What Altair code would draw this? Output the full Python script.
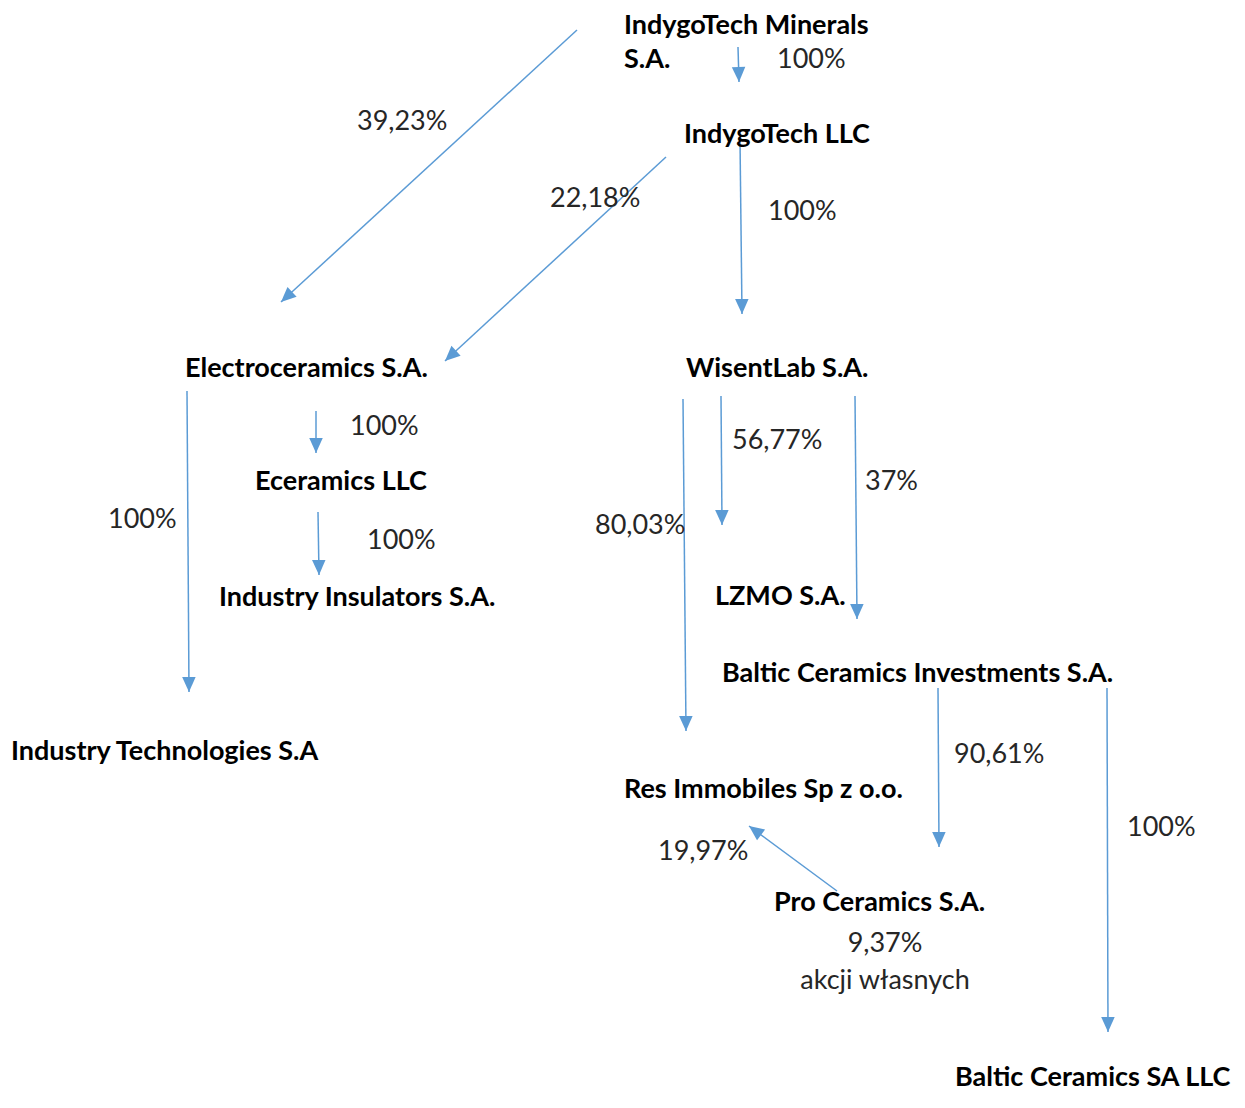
import math
import altair as alt
import pandas as pd

# Company names (bold) and their anchor positions
company_names = [
    "IndygoTech Minerals", "S.A.", "IndygoTech LLC", "Electroceramics S.A.",
    "WisentLab S.A.", "Eceramics LLC", "Industry Insulators S.A.", "LZMO S.A.",
    "Baltic Ceramics Investments S.A.", "Industry Technologies S.A",
    "Res Immobiles Sp z o.o.", "Pro Ceramics S.A.", "Baltic Ceramics SA LLC",
]
company_x = [624, 624, 684, 185, 686, 255, 219, 715, 722, 11, 624, 774, 955]
company_y = [26, 60, 135, 369, 369, 482, 598, 597, 674, 752, 790, 903, 1078]

# Ownership share labels (left aligned)
share_labels = ["100%", "39,23%", "22,18%", "100%", "100%", "56,77%", "37%",
                "100%", "80,03%", "100%", "90,61%", "100%", "19,97%"]
share_x = [777, 357, 550, 768, 350, 732, 865, 108, 595, 367, 954, 1127, 658]
share_y = [60, 122, 199, 212, 427, 441, 482, 520, 526, 541, 755, 828, 852]

# Centered note
note_labels = ["9,37%", "akcji własnych"]
note_x = [885, 885]
note_y = [944, 981]

# Arrows: start -> tip
arrow_x1 = [577, 738, 666, 740, 316, 187, 318, 683, 721, 855, 938, 1107, 837]
arrow_y1 = [30, 47, 157, 140, 411, 391, 512, 399, 396, 396, 688, 688, 891]
arrow_x2 = [281, 739, 445, 742, 316, 189, 319, 686, 722, 857, 939, 1108, 749]
arrow_y2 = [302, 82, 361, 314, 453, 692, 575, 731, 525, 619, 847, 1032, 826]

BLUE = "#5B9BD5"
FONT = "Lato"

companies = pd.DataFrame({"label": company_names, "x": company_x, "y": company_y})
shares = pd.DataFrame({"label": share_labels, "x": share_x, "y": share_y})
notes = pd.DataFrame({"label": note_labels, "x": note_x, "y": note_y})
arrows = pd.DataFrame({"x1": arrow_x1, "y1": arrow_y1, "x2": arrow_x2, "y2": arrow_y2})
arrows["angle"] = [
    (math.degrees(math.atan2(-(b - a), (d - c))) + 360) % 360
    for a, b, c, d in zip(arrows.x1, arrows.x2, arrows.y1, arrows.y2)
]

W, H = 1229, 1086
xs = alt.Scale(domain=[8, 8 + W])
ys = alt.Scale(domain=[8, 8 + H], reverse=True)
X = lambda f: alt.X(f, type="quantitative", scale=xs, axis=None)
Y = lambda f: alt.Y(f, type="quantitative", scale=ys, axis=None)

lines = alt.Chart(arrows).mark_rule(color=BLUE, strokeWidth=1.5).encode(
    x=X("x1"), y=Y("y1"), x2="x2", y2="y2"
)

heads = alt.Chart(arrows).mark_point(
    shape="M0,0 L-0.45,-1 L0.45,-1 Z", filled=True, color=BLUE, opacity=1, size=900
).encode(
    x=X("x2"), y=Y("y2"), angle=alt.Angle("angle:Q", scale=None)
)

comp_text = alt.Chart(companies).mark_text(
    align="left", baseline="middle", font=FONT, fontSize=27, fontWeight="bold", color="#000000"
).encode(x=X("x"), y=Y("y"), text="label:N")

share_text = alt.Chart(shares).mark_text(
    align="left", baseline="middle", font=FONT, fontSize=27, color="#262626"
).encode(x=X("x"), y=Y("y"), text="label:N")

note_text = alt.Chart(notes).mark_text(
    align="center", baseline="middle", font=FONT, fontSize=27, color="#262626"
).encode(x=X("x"), y=Y("y"), text="label:N")

chart = alt.layer(lines, heads, comp_text, share_text, note_text).properties(
    width=W, height=H, padding=0,
    autosize=alt.AutoSizeParams(type="none"),
    background="white",
).configure_view(stroke=None)

chart.save("out.html", embed_options={"renderer": "svg", "actions": False})
